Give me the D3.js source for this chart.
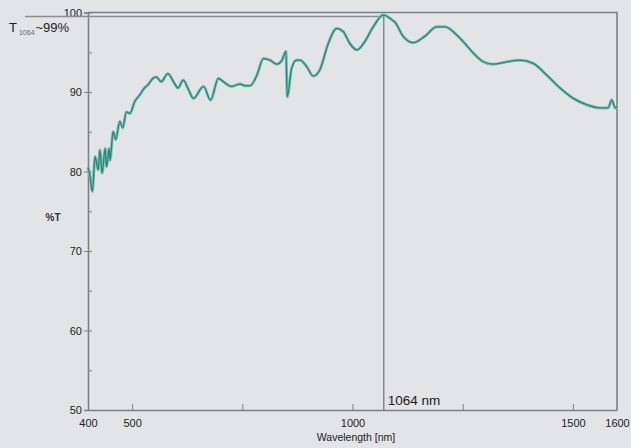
<!DOCTYPE html>
<html lang="en">
<head>
    <meta charset="UTF-8">
    <title>Transmission spectrum</title>
    <script src="https://cdn.jsdelivr.net/npm/d3@7"></script>
    <style>
        body { margin: 0; background: #e3e4e6; }
        svg { display: block; font-family: "Liberation Sans", Arial, sans-serif; }
        .axis text { font-size: 11px; fill: #222; }
        .axis path, .axis line { stroke: #7d8088; }
    </style>
</head>
<body>
    <div id="chart"></div>
    <script>
        const wavelength = [400, 404, 410, 416, 423, 427, 432, 439, 442, 448, 450, 457, 463, 472, 479, 487, 495, 506, 517, 528,
            536, 547, 555, 566, 581, 596, 604, 616, 628, 639, 662, 678, 696, 707, 726, 745, 756, 768, 783, 798,
            813, 828, 839, 849, 852, 862, 873, 881, 896, 911, 926, 945, 964, 979, 994, 1010, 1025, 1047, 1070, 1089,
            1096, 1115, 1138, 1164, 1191, 1210, 1236, 1255, 1274, 1297, 1319, 1350, 1380, 1410, 1441, 1471, 1501, 1531, 1562, 1580,
            1588, 1596, 1600];
        const transmission = [80.5, 79.6, 77.5, 81.9, 80.2, 82.7, 79.8, 82.9, 80.6, 82.9, 81.4, 85.0, 84.0, 86.3, 85.5, 87.5, 87.3, 88.8, 89.6, 90.5,
            90.9, 91.7, 91.9, 91.3, 92.3, 91.1, 90.5, 91.5, 90.3, 89.2, 90.7, 89.0, 91.7, 91.3, 90.7, 91.0, 90.8, 90.8, 92.1, 94.2,
            94.0, 93.5, 93.9, 95.1, 89.4, 93.0, 94.0, 94.0, 93.2, 92.0, 92.8, 96.1, 98.0, 97.6, 96.1, 95.3, 96.1, 98.2, 99.7, 99.1,
            98.8, 97.0, 96.2, 97.0, 98.2, 98.2, 97.2, 96.1, 94.9, 93.8, 93.5, 93.8, 94.0, 93.6, 92.1, 90.5, 89.2, 88.4, 88.0, 88.0,
            89.0, 88.0, 88.2];

        const xTicks = [400, 500, 750, 1000, 1250, 1500, 1600];
        const xLabelled = [400, 500, 1000, 1500, 1600];
        const yTicks = [50, 60, 70, 80, 90, 100];
        const yMinorTicks = [55, 65, 75, 85, 95];

        // marker at the transmission peak
        const markerNm = 1071;
        const markerT = 99.5;

        const W = 631, H = 448;
        const margin = { top: 12.5, right: 14, bottom: 38, left: 88 };

        const svg = d3.select("#chart").append("svg")
            .attr("width", W)
            .attr("height", H);

        const x = d3.scaleLinear().domain([400, 1600]).range([margin.left, W - margin.right]);
        const y = d3.scaleLinear().domain([50, 100]).range([H - margin.bottom, margin.top]);

        // frame: top and right borders
        svg.append("path")
            .attr("d", `M${x(400)},${y(100)}H${x(1600)}V${y(50)}`)
            .attr("fill", "none")
            .attr("stroke", "#7d8088")
            .attr("stroke-width", 1.6);

        // y axis, major ticks cross the line, minor ticks point inward
        const yAxis = svg.append("g").attr("class", "axis")
            .attr("transform", `translate(${x(400)},0)`)
            .call(d3.axisLeft(y).tickValues(yTicks).tickSize(4).tickPadding(2).tickFormat(d3.format("d")));
        yAxis.select(".domain").attr("stroke-width", 1.6);
        svg.append("g").attr("class", "axis")
            .attr("transform", `translate(${x(400)},0)`)
            .call(d3.axisRight(y).tickValues(yTicks.concat(yMinorTicks)).tickSize(4).tickFormat(""))
            .select(".domain").remove();

        // x axis, ticks point inward
        const xAxis = svg.append("g").attr("class", "axis")
            .attr("transform", `translate(0,${y(50)})`)
            .call(d3.axisBottom(x).tickValues(xTicks).tickSizeInner(-6).tickSizeOuter(0).tickPadding(9)
                .tickFormat(d => xLabelled.includes(d) ? d : ""));
        xAxis.select(".domain").attr("stroke-width", 1.6);
        xAxis.selectAll(".tick line").filter(d => d === 400 || d === 1600).remove();

        // axis titles
        svg.append("text")
            .attr("x", 53).attr("y", 221)
            .attr("text-anchor", "middle")
            .attr("font-size", 10).attr("font-weight", "bold").attr("fill", "#333")
            .text("%T");
        svg.append("text")
            .attr("x", 356).attr("y", 441)
            .attr("text-anchor", "middle")
            .attr("font-size", 10.5).attr("fill", "#222")
            .text("Wavelength [nm]");

        // 1064 nm marker lines
        svg.append("line")
            .attr("x1", 25).attr("x2", x(markerNm))
            .attr("y1", y(markerT)).attr("y2", y(markerT))
            .attr("stroke", "#8a8d94").attr("stroke-width", 1.6);
        svg.append("line")
            .attr("x1", x(markerNm)).attr("x2", x(markerNm))
            .attr("y1", y(markerT)).attr("y2", y(50))
            .attr("stroke", "#6e717a").attr("stroke-width", 1.2);

        svg.append("text")
            .attr("x", x(markerNm) + 4).attr("y", y(50) - 5)
            .attr("font-size", 13.5).attr("fill", "#1a1a1a")
            .text("1064 nm");

        const tLabel = svg.append("text")
            .attr("x", 9).attr("y", 32)
            .attr("font-size", 13).attr("fill", "#1a1a1a");
        tLabel.append("tspan").text("T");
        tLabel.append("tspan").attr("font-size", 7).attr("dy", 3).attr("dx", 2).attr("fill", "#666").text("1064");
        tLabel.append("tspan").attr("dy", -3).attr("dx", 1).text("~99%");

        // spectrum
        const points = wavelength.map((w, i) => [w, transmission[i]]);
        const line = d3.line()
            .x(d => x(d[0]))
            .y(d => y(d[1]))
            .curve(d3.curveMonotoneX);

        svg.append("path")
            .attr("d", line(points))
            .attr("fill", "none")
            .attr("stroke", "#7cc4b8")
            .attr("stroke-width", 3)
            .attr("stroke-linejoin", "round");
        svg.append("path")
            .attr("d", line(points))
            .attr("fill", "none")
            .attr("stroke", "#2f8276")
            .attr("stroke-width", 1.3)
            .attr("stroke-linejoin", "round");
    </script>
</body>
</html>
